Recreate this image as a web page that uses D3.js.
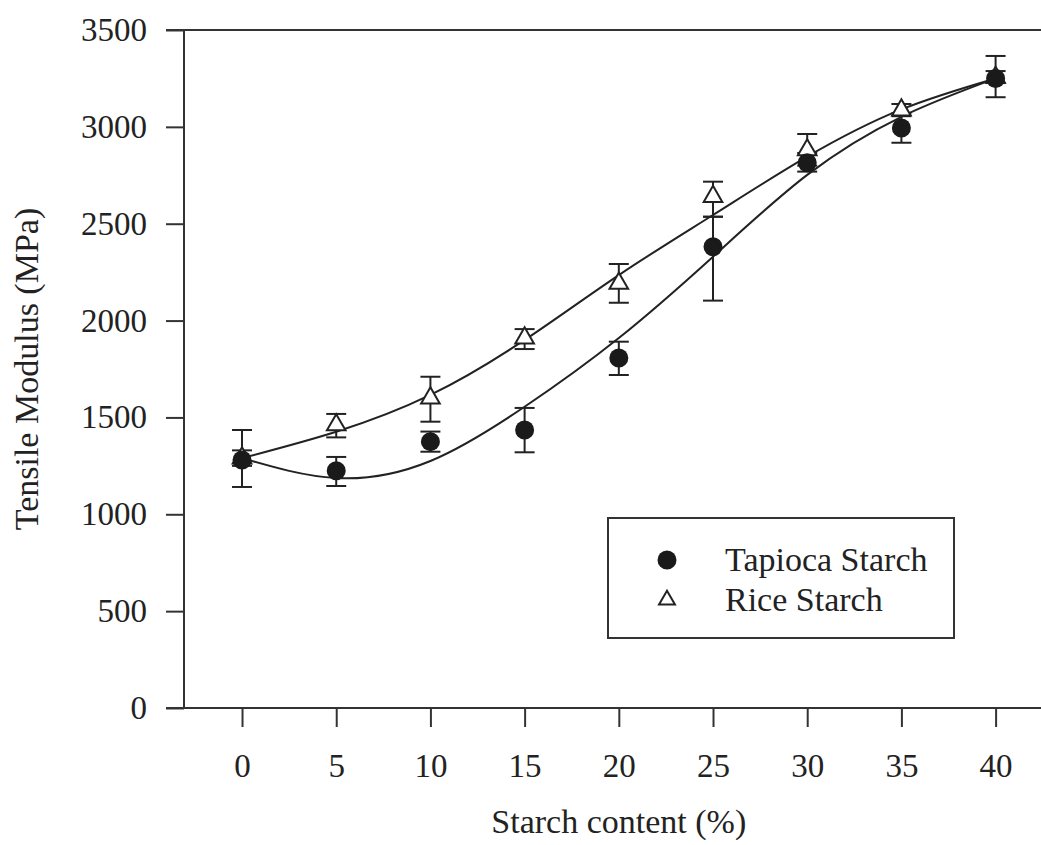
<!DOCTYPE html>
<html lang="en">
<head>
  <meta charset="utf-8" />
  <title>Tensile Modulus vs Starch content</title>
  <style>
    html,body{margin:0;background:#fff;}
    svg{display:block;font-family:"Liberation Serif","Times New Roman",serif;}
    .axis text{font-size:33px;fill:#222;}
    .axis line{stroke:#333;stroke-width:2;}
  </style>
</head>
<body>
  <svg id="chart" width="1041" height="845"></svg>
  <script src="https://cdn.jsdelivr.net/npm/d3@7"></script>
  <script>
    // ---- data ----
    const starch = [0, 5, 10, 15, 20, 25, 30, 35, 40];
    const tapioca    = [1280, 1225, 1375, 1435, 1807, 2381, 2815, 2994, 3250];
    const tapiocaLo  = [1141, 1146, 1323, 1320, 1719, 2103, 2769, 2918, 3153];
    const tapiocaHi  = [1435, 1296, 1427, 1549, 1891, 2536, 2865, 3070, 3366];
    const rice       = [1290, 1461, 1600, 1910, 2192, 2640, 2881, 3087, 3255];
    const riceLo     = [1250, 1397, 1478, 1853, 2092, 2536, 2800, 3055, 3226];
    const riceHi     = [1330, 1518, 1710, 1956, 2292, 2717, 2963, 3118, 3288];
    // fitted curves, read at each x
    const tapiocaFit = [1290, 1187, 1275, 1555, 1910, 2330, 2752, 3052, 3250];
    const riceFit    = [1290, 1426, 1616, 1900, 2235, 2545, 2846, 3090, 3250];
    const xTicks = [0, 5, 10, 15, 20, 25, 30, 35, 40];
    const yTicks = [0, 500, 1000, 1500, 2000, 2500, 3000, 3500];

    // ---- layout ----
    const W = 1041, H = 845;
    const mLeft = 184, mTop = 30, mBottom = 708, mRight = W;
    const FONT = '"Liberation Serif","Times New Roman",serif';
    const svg = d3.select('#chart');

    const x = d3.scaleLinear().domain([-3.08, 42.41]).range([mLeft, mRight]);
    const y = d3.scaleLinear().domain([0, 3500]).range([mBottom, mTop]);

    // axes
    const gy = svg.append('g').attr('class','axis').attr('transform',`translate(${mLeft},0)`)
      .call(d3.axisLeft(y).tickValues(yTicks).tickFormat(d3.format('d'))
        .tickSize(18).tickPadding(19).tickSizeOuter(0))
      .attr('font-family',FONT).attr('font-size',33);
    gy.select('.domain').remove();
    gy.selectAll('text').attr('dy','0.32em');

    const gx = svg.append('g').attr('class','axis').attr('transform',`translate(0,${mBottom})`)
      .call(d3.axisBottom(x).tickValues(xTicks).tickFormat(d3.format('d'))
        .tickSize(19).tickPadding(27).tickSizeOuter(0))
      .attr('font-family',FONT).attr('font-size',33);
    gx.select('.domain').remove();

    // frame lines
    const frame = svg.append('g').attr('stroke','#333').attr('stroke-width',2);
    frame.append('line').attr('x1',mLeft).attr('x2',mLeft).attr('y1',mTop).attr('y2',mBottom);
    frame.append('line').attr('x1',mLeft-18).attr('x2',mRight).attr('y1',mBottom).attr('y2',mBottom);
    frame.append('line').attr('x1',mLeft-18).attr('x2',mRight).attr('y1',mTop).attr('y2',mTop);

    // axis titles
    svg.append('text').attr('x',(x(0)+x(40))/2).attr('y',833).attr('text-anchor','middle')
      .attr('font-size',34).attr('fill','#222').text('Starch content (%)');
    svg.append('text').attr('transform',`translate(38,${(mTop+mBottom)/2}) rotate(-90)`)
      .attr('text-anchor','middle').attr('font-size',34).attr('fill','#222').text('Tensile Modulus (MPa)');

    // fitted curves
    const line = d3.line().x(d=>x(d[0])).y(d=>y(d[1])).curve(d3.curveNatural);
    [tapiocaFit, riceFit].forEach(fit=>{
      svg.append('path').datum(starch.map((s,i)=>[s,fit[i]]))
        .attr('d',line).attr('fill','none').attr('stroke','#222').attr('stroke-width',2);
    });

    // error bars
    function errorBars(lo, hi){
      const g = svg.append('g').attr('stroke','#222').attr('stroke-width',2);
      starch.forEach((s,i)=>{
        const cx = x(s);
        g.append('line').attr('x1',cx).attr('x2',cx).attr('y1',y(lo[i])).attr('y2',y(hi[i]));
        g.append('line').attr('x1',cx-10).attr('x2',cx+10).attr('y1',y(lo[i])).attr('y2',y(lo[i]));
        g.append('line').attr('x1',cx-10).attr('x2',cx+10).attr('y1',y(hi[i])).attr('y2',y(hi[i]));
      });
    }
    errorBars(riceLo, riceHi);
    errorBars(tapiocaLo, tapiocaHi);

    const tri = d3.symbol().type(d3.symbolTriangle).size(150);
    // rice: open triangles
    svg.append('g').selectAll('path').data(starch).join('path')
      .attr('transform',(d,i)=>`translate(${x(d)},${y(rice[i])})`)
      .attr('d',tri).attr('fill','#fff').attr('stroke','#222').attr('stroke-width',2);
    // tapioca: filled circles
    svg.append('g').selectAll('circle').data(starch).join('circle')
      .attr('cx',d=>x(d)).attr('cy',(d,i)=>y(tapioca[i])).attr('r',9.5).attr('fill','#1a1a1a');

    // legend
    const lg = svg.append('g');
    lg.append('rect').attr('x',608).attr('y',518).attr('width',346).attr('height',120)
      .attr('fill','#fff').attr('stroke','#333').attr('stroke-width',2);
    lg.append('circle').attr('cx',667).attr('cy',560).attr('r',9.5).attr('fill','#1a1a1a');
    lg.append('path').attr('transform','translate(667,600)').attr('d',d3.symbol().type(d3.symbolTriangle).size(110))
      .attr('fill','#fff').attr('stroke','#222').attr('stroke-width',2);
    lg.append('text').attr('x',725).attr('y',571).attr('font-size',34).attr('fill','#222').text('Tapioca Starch');
    lg.append('text').attr('x',725).attr('y',611).attr('font-size',34).attr('fill','#222').text('Rice Starch');
  </script>
</body>
</html>
